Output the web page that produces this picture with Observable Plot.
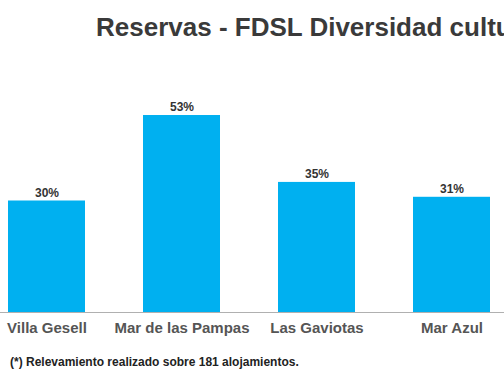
<!DOCTYPE html>
<html>
<head>
<meta charset="utf-8">
<script src="https://cdn.jsdelivr.net/npm/d3@7"></script>
<script src="https://cdn.jsdelivr.net/npm/@observablehq/plot@0.6"></script>
<style>
  html, body { margin: 0; padding: 0; background: #fff; width: 504px; height: 380px; overflow: hidden; }
  #title { position: relative; height: 60px; width: 504px; overflow: hidden; }
  #title span { position: absolute; left: 96px; top: 14px; font: bold 26px/26px "Liberation Sans", Arial, sans-serif; color: #3a3a3a; white-space: nowrap; }
  #chart { height: 290px; width: 504px; overflow: hidden; }
  #chart svg { display: block; margin-left: -21.5px; max-width: none !important; width: 540px !important; height: 290px !important; }
  #note { padding: 6px 0 0 10px; font: bold 12px/12px "Liberation Sans", Arial, sans-serif; color: #222; white-space: nowrap; }
</style>
</head>
<body>
<div id="title"><span>Reservas - FDSL Diversidad cultural</span></div>
<div id="chart"></div>
<div id="note">(*) Relevamiento realizado sobre 181 alojamientos.</div>
<script>
const categories = ["Villa Gesell", "Mar de las Pampas", "Las Gaviotas", "Mar Azul"];
const values = [30, 53, 35, 31];
const valueLabels = ["30%", "53%", "35%", "31%"];

const data = categories.map((c, i) => ({ c, v: values[i], l: valueLabels[i] }));

const chart = Plot.plot({
  width: 540,
  height: 290,
  marginTop: 29,
  marginBottom: 38,
  marginLeft: 0,
  marginRight: 0,
  style: { fontFamily: "'Liberation Sans', Arial, sans-serif", background: "white" },
  x: { domain: categories, paddingInner: 0.43, paddingOuter: 0.215, label: null },
  y: { domain: [0, 60], axis: null },
  marks: [
    Plot.barY(data, { x: "c", y: "v", fill: "#00b0f0" }),
    Plot.ruleY([0], { stroke: "#b0b0b0", strokeWidth: 1.2 }),
    Plot.text(data, { x: "c", y: "v", text: "l", dy: -8, fontSize: 12, fontWeight: "bold", fill: "#333" }),
    Plot.axisX({ tickSize: 0, tickPadding: 10, fontSize: 15, fontWeight: "bold", fill: "#555", label: null })
  ]
});
document.getElementById("chart").appendChild(chart);
</script>
</body>
</html>
